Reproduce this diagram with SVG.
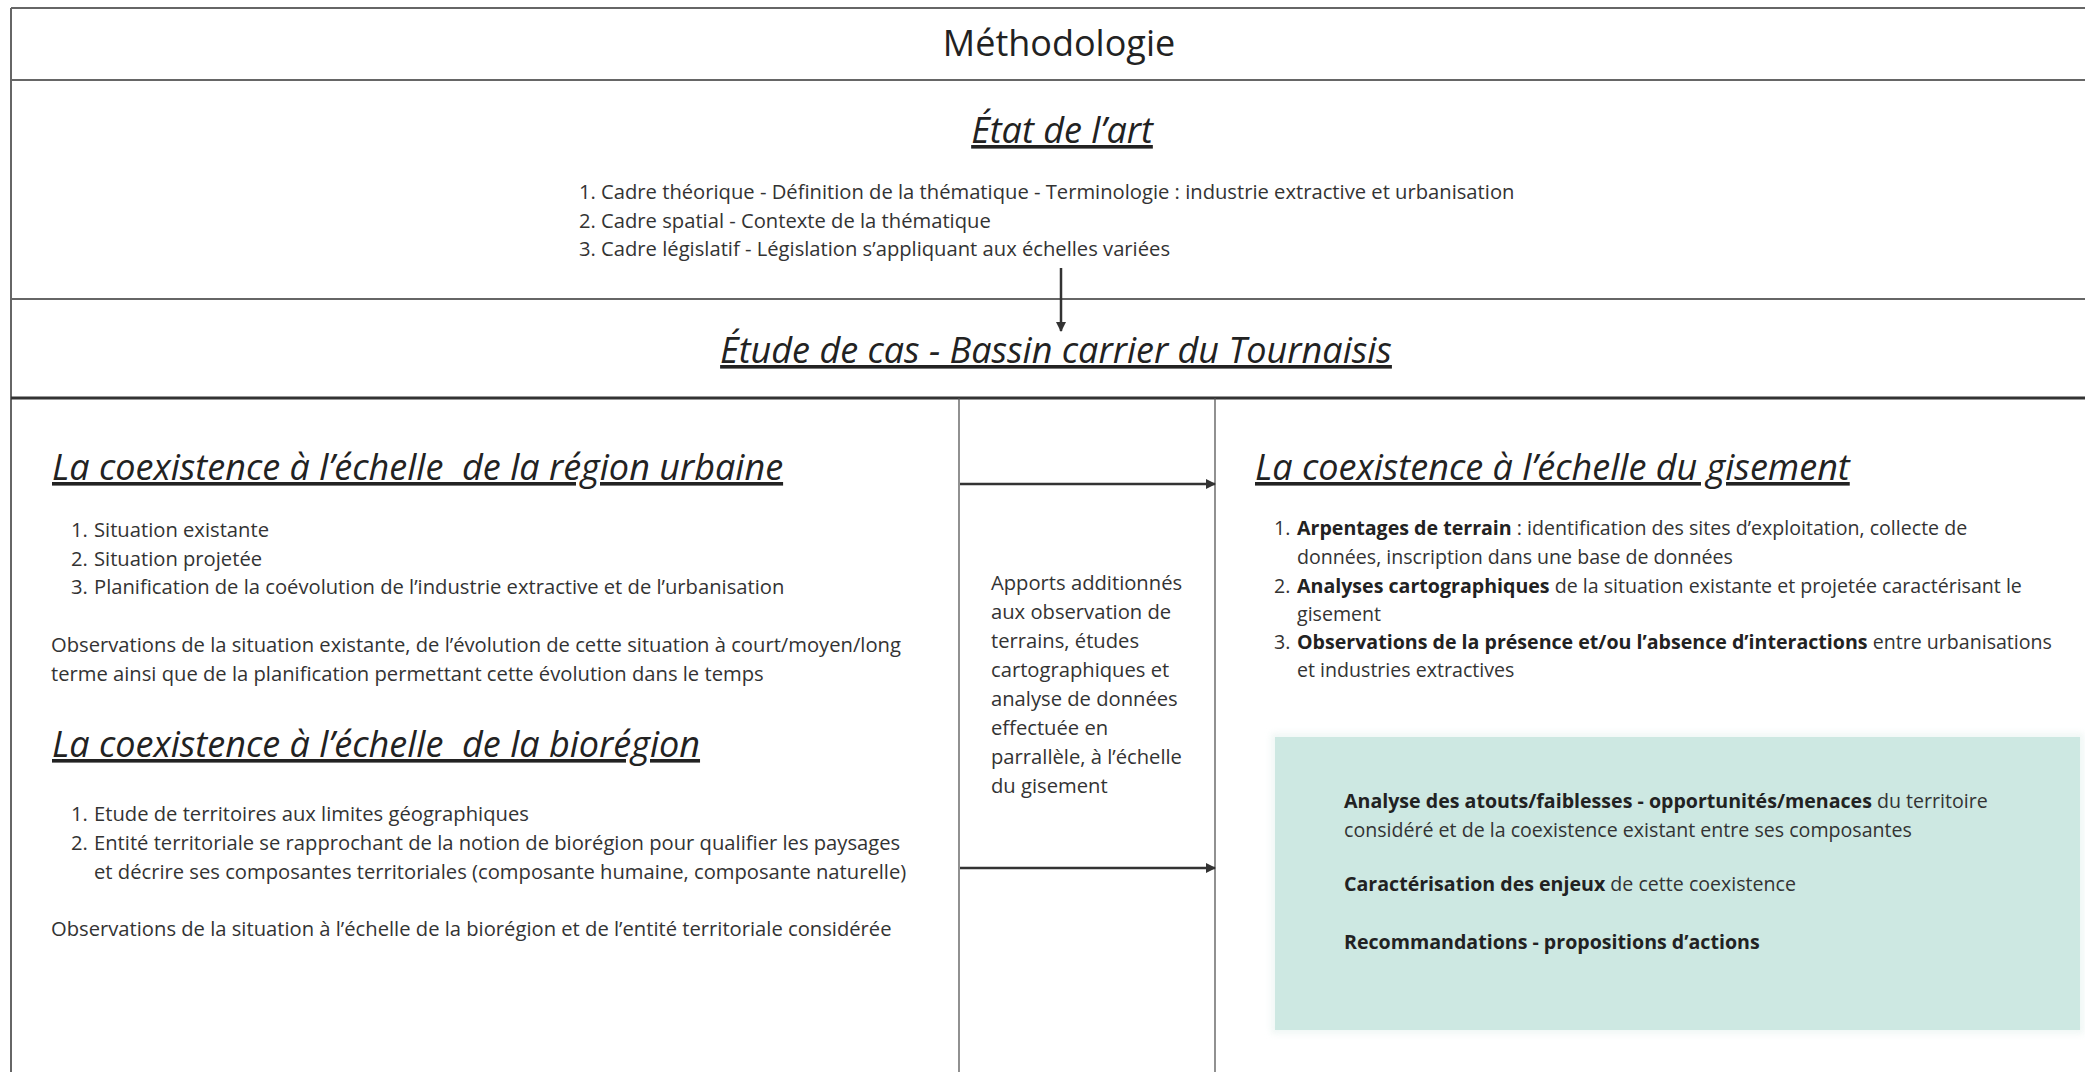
<svg xmlns="http://www.w3.org/2000/svg" width="2085" height="1072" viewBox="0 0 2085 1072">
<style>
.t{font-family:"Open Sans","Noto Sans",sans-serif;fill:#333;font-size:20.2px}
.r{font-size:19.6px}
.h{font-family:"Open Sans","Noto Sans",sans-serif;fill:#222;font-size:36px;font-style:italic;text-decoration:underline;white-space:pre}
.ttl{font-family:"Open Sans","Noto Sans",sans-serif;fill:#222;font-size:36px}
.b{font-weight:700;fill:#222}
.ln{stroke:#666;stroke-width:2;fill:none}
.vl{stroke:#555;stroke-width:1.3;fill:none}
.ar{stroke:#333;stroke-width:2.5;fill:none}
</style>
<defs>
<marker id="ah" markerWidth="10" markerHeight="10" refX="9" refY="5" orient="auto" markerUnits="userSpaceOnUse" viewBox="0 0 10 10">
<path d="M0,0 L10,5 L0,10 Z" fill="#333"/>
</marker>
<filter id="sh" x="-5%" y="-5%" width="110%" height="110%">
<feGaussianBlur stdDeviation="3"/>
</filter>
</defs>
<rect width="2085" height="1072" fill="#fff"/>
<g id="frame">
<line class="ln" x1="11" y1="8" x2="2085" y2="8"/>
<line class="ln" x1="11" y1="8" x2="11" y2="1072"/>
<line class="ln" x1="11" y1="80" x2="2085" y2="80"/>
<line class="ln" x1="11" y1="299" x2="2085" y2="299"/>
<line x1="11" y1="398" x2="2085" y2="398" stroke="#333" stroke-width="3"/>
<line class="vl" x1="959" y1="398" x2="959" y2="1072"/>
<line class="vl" x1="1215" y1="398" x2="1215" y2="1072"/>
</g>
<g id="title">
<text class="ttl" x="1059" y="56" text-anchor="middle">Méthodologie</text>
</g>
<g id="etat-art">
<text class="h" x="1062" y="143" text-anchor="middle">État de l’art</text>
<text class="t" x="579" y="199">1. Cadre théorique - Définition de la thématique - Terminologie : industrie extractive et urbanisation</text>
<text class="t" x="579" y="228">2. Cadre spatial - Contexte de la thématique</text>
<text class="t" x="579" y="256">3. Cadre législatif - Législation s’appliquant aux échelles variées</text>
</g>
<g id="etude-cas">
<text class="h" x="1056" y="363" text-anchor="middle">Étude de cas - Bassin carrier du Tournaisis</text>
</g>
<g id="region-urbaine">
<text class="h" x="52" y="480" xml:space="preserve">La coexistence à l’échelle  de la région urbaine</text>
<text class="t" x="71" y="537">1. <tspan x="94">Situation existante</tspan></text>
<text class="t" x="71" y="566">2. <tspan x="94">Situation projetée</tspan></text>
<text class="t" x="71" y="594">3. <tspan x="94">Planification de la coévolution de l’industrie extractive et de l’urbanisation</tspan></text>
<text class="t" x="51" y="652">Observations de la situation existante, de l’évolution de cette situation à court/moyen/long</text>
<text class="t" x="51" y="681">terme ainsi que de la planification permettant cette évolution dans le temps</text>
</g>
<g id="bioregion">
<text class="h" x="52" y="757" xml:space="preserve">La coexistence à l’échelle  de la biorégion</text>
<text class="t" x="71" y="821">1. <tspan x="94">Etude de territoires aux limites géographiques</tspan></text>
<text class="t" x="71" y="850">2. <tspan x="94">Entité territoriale se rapprochant de la notion de biorégion pour qualifier les paysages</tspan></text>
<text class="t" x="94" y="879">et décrire ses composantes territoriales (composante humaine, composante naturelle)</text>
<text class="t" x="51" y="936">Observations de la situation à l’échelle de la biorégion et de l’entité territoriale considérée</text>
</g>
<g id="apports">
<text class="t" x="991" y="590">Apports additionnés</text>
<text class="t" x="991" y="619">aux observation de</text>
<text class="t" x="991" y="648">terrains, études</text>
<text class="t" x="991" y="677">cartographiques et</text>
<text class="t" x="991" y="706">analyse de données</text>
<text class="t" x="991" y="735">effectuée en</text>
<text class="t" x="991" y="764">parrallèle, à l’échelle</text>
<text class="t" x="991" y="793">du gisement</text>
</g>
<g id="gisement">
<text class="h" x="1255" y="480">La coexistence à l’échelle du gisement</text>
<text class="t r" x="1274" y="535">1. <tspan x="1297" class="b">Arpentages de terrain</tspan> : identification des sites d’exploitation, collecte de</text>
<text class="t r" x="1297" y="564">données, inscription dans une base de données</text>
<text class="t r" x="1274" y="593">2. <tspan x="1297" class="b">Analyses cartographiques</tspan> de la situation existante et projetée caractérisant le</text>
<text class="t r" x="1297" y="621">gisement</text>
<text class="t r" x="1274" y="649">3. <tspan x="1297" class="b">Observations de la présence et/ou l’absence d’interactions</tspan> entre urbanisations</text>
<text class="t r" x="1297" y="677">et industries extractives</text>
</g>
<g id="synthese">
<rect x="1271" y="733" width="813" height="301" fill="#e6f2ef" filter="url(#sh)" opacity="0.6"/>
<rect x="1275" y="737" width="805" height="293" fill="#cde8e2"/>
<text class="t r" x="1344" y="808"><tspan class="b">Analyse des atouts/faiblesses - opportunités/menaces</tspan> du territoire</text>
<text class="t r" x="1344" y="837">considéré et de la coexistence existant entre ses composantes</text>
<text class="t r" x="1344" y="891"><tspan class="b">Caractérisation des enjeux</tspan> de cette coexistence</text>
<text class="t r" x="1344" y="949"><tspan class="b">Recommandations - propositions d’actions</tspan></text>
</g>
<g id="connectors">
<line class="ar" x1="1061" y1="268" x2="1061" y2="331" marker-end="url(#ah)"/>
<line class="ar" x1="960" y1="484" x2="1215" y2="484" marker-end="url(#ah)"/>
<line class="ar" x1="960" y1="868" x2="1215" y2="868" marker-end="url(#ah)"/>
</g>
</svg>
